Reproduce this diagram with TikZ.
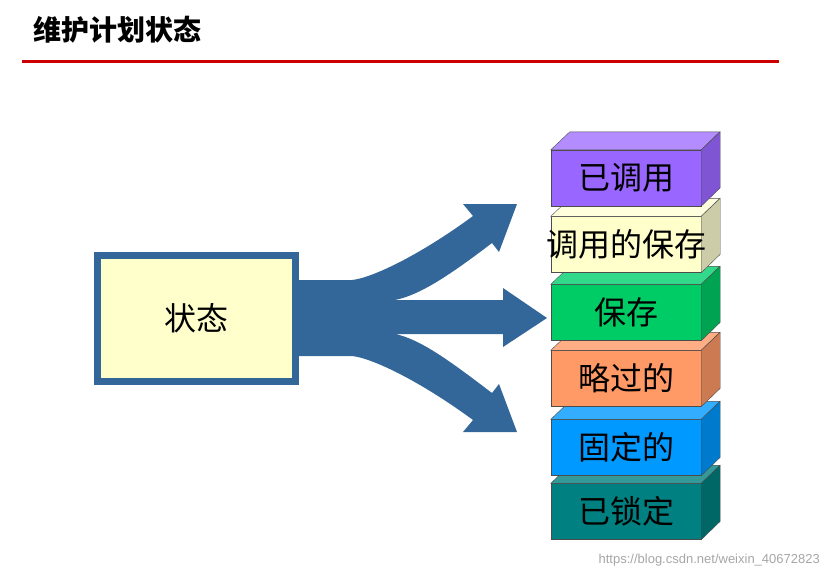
\documentclass[tikz,border=0pt]{standalone}
\usepackage{fontspec}
\setsansfont{Liberation Sans}
\newfontfamily\cjk{Noto Sans CJK SC}
\definecolor{steel}{HTML}{336699}
\definecolor{paleyellow}{HTML}{FFFFCC}
\definecolor{titlered}{HTML}{CC0000}
\definecolor{purpleF}{HTML}{9966FF}\definecolor{purpleT}{HTML}{B38CFF}\definecolor{purpleS}{HTML}{7F55D4}
\definecolor{creamF}{HTML}{FFFFCC}\definecolor{creamT}{HTML}{FFFFDD}\definecolor{creamS}{HTML}{CCCCA8}
\definecolor{greenF}{HTML}{00CC66}\definecolor{greenT}{HTML}{33D98A}\definecolor{greenS}{HTML}{00A352}
\definecolor{orangeF}{HTML}{FF9966}\definecolor{orangeT}{HTML}{FFAD85}\definecolor{orangeS}{HTML}{CC7A52}
\definecolor{blueF}{HTML}{0099FF}\definecolor{blueT}{HTML}{33ADFF}\definecolor{blueS}{HTML}{007ACC}
\definecolor{tealF}{HTML}{008080}\definecolor{tealT}{HTML}{339999}\definecolor{tealS}{HTML}{006666}
\begin{document}
\begin{tikzpicture}[x=1pt, y=-1pt]
    \tikzstyle{front} = [rectangle, draw=black!70, line width=0.4pt, minimum width=150pt, minimum height=56pt, inner sep=0pt]
    \tikzstyle{face} = [draw=black!70, line width=0.4pt]
    \tikzstyle{boxtext} = [font=\cjk\fontsize{32}{32}\selectfont]
    \tikzstyle{state} = [rectangle, draw=steel, line width=7pt, fill=paleyellow, minimum width=198pt, minimum height=126pt, font=\cjk\fontsize{32}{32}\selectfont]
    \useasboundingbox (0,0) rectangle (829,579);

    % title and rule
    \node [anchor=west, inner sep=0pt, font=\cjk\bfseries\fontsize{28}{28}\selectfont] (title) at (33,30) {维护计划状态};
    \coordinate (ruleL) at (22,61);
    \coordinate (ruleR) at (779,61);
    \draw [titlered, line width=3pt] (ruleL) -- (ruleR);

    % three-way arrow
    \fill [steel] (290,280) -- (352,280) .. controls (372,278) and (420,255) .. (473,216) -- (463,204) -- (517,204) -- (499,252) -- (492,243)
        .. controls (450,275) and (420,295) .. (395,300) -- (503,300) -- (503,288) -- (547,318) -- (503,347) -- (503,334) -- (395,334)
        .. controls (420,339) and (450,361) .. (492,393) -- (499,384) -- (517,432) -- (463,432) -- (473,420)
        .. controls (420,381) and (372,358) .. (352,356) -- (290,356) -- cycle;
    \node [state] (st) at (196.5,318.5) {状态};

    % stack of boxes, bottom first
    \node [front, fill=tealF] (locked) at (626,511.5) {};
    \filldraw [face, fill=tealT] (locked.north west) -- ++(19,-18) -- ++(150,0) -- (locked.north east) -- cycle;
    \filldraw [face, fill=tealS] (locked.north east) -- ++(19,-18) -- ++(0,56) -- (locked.south east) -- cycle;
    \node [boxtext] at (locked) {已锁定};

    \node [front, fill=blueF] (fixed) at (626,447.5) {};
    \filldraw [face, fill=blueT] (fixed.north west) -- ++(19,-18) -- ++(150,0) -- (fixed.north east) -- cycle;
    \filldraw [face, fill=blueS] (fixed.north east) -- ++(19,-18) -- ++(0,56) -- (fixed.south east) -- cycle;
    \node [boxtext] at (fixed) {固定的};

    \node [front, fill=orangeF] (skipped) at (626,378.5) {};
    \filldraw [face, fill=orangeT] (skipped.north west) -- ++(19,-18) -- ++(150,0) -- (skipped.north east) -- cycle;
    \filldraw [face, fill=orangeS] (skipped.north east) -- ++(19,-18) -- ++(0,56) -- (skipped.south east) -- cycle;
    \node [boxtext] at (skipped) {略过的};

    \node [front, fill=greenF] (saved) at (626,312.5) {};
    \filldraw [face, fill=greenT] (saved.north west) -- ++(19,-18) -- ++(150,0) -- (saved.north east) -- cycle;
    \filldraw [face, fill=greenS] (saved.north east) -- ++(19,-18) -- ++(0,56) -- (saved.south east) -- cycle;
    \node [boxtext] at (saved) {保存};

    \node [front, fill=creamF] (callsaved) at (626,244.5) {};
    \filldraw [face, fill=creamT] (callsaved.north west) -- ++(19,-18) -- ++(150,0) -- (callsaved.north east) -- cycle;
    \filldraw [face, fill=creamS] (callsaved.north east) -- ++(19,-18) -- ++(0,56) -- (callsaved.south east) -- cycle;
    \node [boxtext] at (callsaved) {调用的保存};

    \node [front, fill=purpleF] (called) at (626,178) {};
    \filldraw [face, fill=purpleT] (called.north west) -- ++(19,-18) -- ++(150,0) -- (called.north east) -- cycle;
    \filldraw [face, fill=purpleS] (called.north east) -- ++(19,-18) -- ++(0,56) -- (called.south east) -- cycle;
    \node [boxtext] at (called) {已调用};

    % watermark
    \node [anchor=east, inner sep=0pt, text=black!35, font=\sffamily\fontsize{13}{13}\selectfont] (mark) at (820,560) {https://blog.csdn.net/weixin\_40672823};
\end{tikzpicture}
\end{document}
